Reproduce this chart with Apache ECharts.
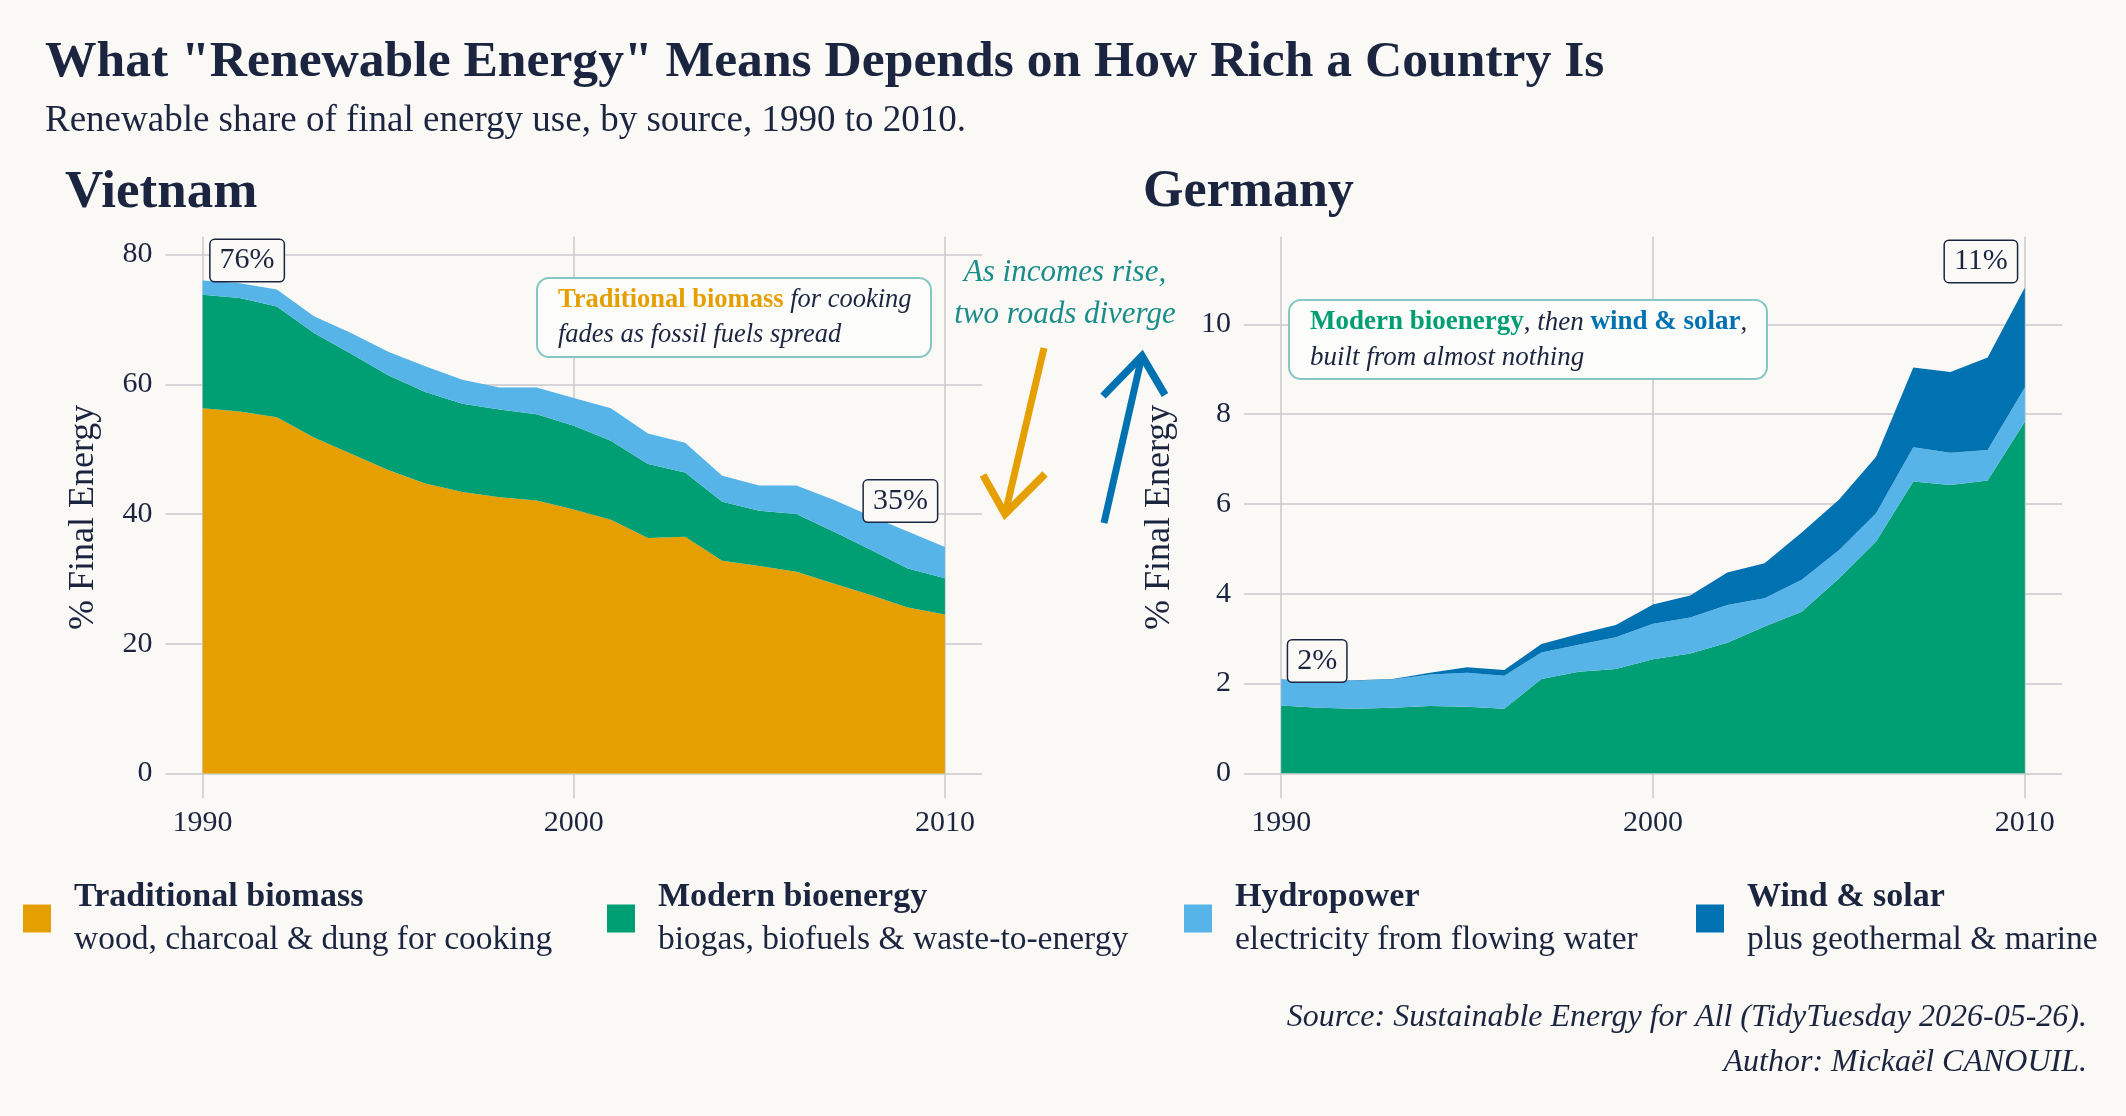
<!DOCTYPE html>
<html>
<head>
<meta charset="utf-8">
<title>Renewable energy: Vietnam vs Germany</title>
<script src="https://cdn.jsdelivr.net/npm/echarts@6/dist/echarts.min.js"></script>
<style>
  html, body { margin: 0; padding: 0; background: #faf9f6; }
  #chart { width: 2126px; height: 1116px; }
</style>
</head>
<body>
<div id="chart"></div>
<script>
  // data
  var years = [1990, 1991, 1992, 1993, 1994, 1995, 1996, 1997, 1998, 1999, 2000,
               2001, 2002, 2003, 2004, 2005, 2006, 2007, 2008, 2009, 2010];

  var sources = ['Traditional biomass', 'Modern bioenergy', 'Hydropower', 'Wind & solar'];
  var sourceNotes = ['wood, charcoal & dung for cooking', 'biogas, biofuels & waste-to-energy',
                     'electricity from flowing water', 'plus geothermal & marine'];

  // Vietnam, % of final energy
  var vnTraditional = [56.3, 55.8, 54.9, 51.8, 49.3, 46.8, 44.7, 43.4, 42.6, 42.1, 40.7,
                       39.1, 36.3, 36.5, 32.8, 32.0, 31.1, 29.3, 27.5, 25.6, 24.5];
  var vnModern = [17.5, 17.5, 17.1, 16.1, 15.4, 14.6, 14.1, 13.6, 13.5, 13.3, 12.9,
                  12.2, 11.4, 9.9, 9.1, 8.5, 8.9, 8.0, 7.0, 6.0, 5.6];
  var vnHydro = [2.2, 2.3, 2.6, 2.6, 3.2, 3.6, 4.0, 3.7, 3.4, 4.1, 4.3,
                 5.0, 4.7, 4.6, 4.0, 3.9, 4.4, 4.9, 5.2, 5.7, 4.8];
  var vnWindSolar = [0, 0, 0, 0, 0, 0, 0, 0, 0, 0, 0,
                     0, 0, 0, 0, 0, 0, 0, 0, 0, 0];

  // Germany, % of final energy
  var deTraditional = [0, 0, 0, 0, 0, 0, 0, 0, 0, 0, 0,
                       0, 0, 0, 0, 0, 0, 0, 0, 0, 0];
  var deModern = [1.51, 1.46, 1.44, 1.46, 1.50, 1.48, 1.44, 2.10, 2.26, 2.32, 2.54,
                  2.67, 2.91, 3.27, 3.60, 4.34, 5.16, 6.50, 6.42, 6.52, 7.83];
  var deHydro = [0.59, 0.58, 0.62, 0.63, 0.70, 0.76, 0.73, 0.59, 0.60, 0.71, 0.79,
                 0.80, 0.84, 0.63, 0.71, 0.63, 0.63, 0.76, 0.72, 0.68, 0.76];
  var deWindSolar = [0.00, 0.01, 0.01, 0.01, 0.04, 0.12, 0.13, 0.19, 0.24, 0.27, 0.43,
                     0.49, 0.72, 0.78, 1.05, 1.12, 1.26, 1.78, 1.80, 2.06, 2.23];

  var yearTicks = [1990, 2000, 2010];
  var vnTicks = [0, 20, 40, 60, 80];
  var deTicks = [0, 2, 4, 6, 8, 10];

  var colors = ['#E69F00', '#009E73', '#56B4E9', '#0072B2'];
  var dark = '#1b2540';
  var teal = '#1a8c89';
  var bg = '#faf9f6';
  var gridColor = '#c9c9ce';
  var serif = '"Liberation Serif", "DejaVu Serif", serif';

  // value first, year second, so the stack sums the values (y), not the years
  function pairs(vals) {
    return years.map(function (y, i) { return [vals[i], y]; });
  }

  function totals(a, b, c, d) {
    return years.map(function (y, i) { return a[i] + b[i] + c[i] + d[i]; });
  }

  function areaSeries(idx, stack, lists) {
    return lists.map(function (vals, k) {
      return {
        name: sources[k],
        type: 'line',
        xAxisIndex: idx,
        yAxisIndex: idx,
        stack: stack,
        data: pairs(vals),
        encode: { x: 1, y: 0 },
        symbol: 'none',
        showSymbol: false,
        silent: true,
        z: 3,
        lineStyle: { width: 0, color: colors[k] },
        itemStyle: { color: colors[k] },
        areaStyle: { color: colors[k], opacity: 1 }
      };
    });
  }

  // grid lines drawn behind the areas
  function gridLines(idx, yTicks) {
    return {
      type: 'line',
      xAxisIndex: idx,
      yAxisIndex: idx,
      data: [],
      silent: true,
      z: 1,
      markLine: {
        z: 1,
        silent: true,
        symbol: ['none', 'none'],
        label: { show: false },
        lineStyle: { color: gridColor, width: 1.5, type: 'solid' },
        emphasis: { disabled: true },
        data: yTicks.map(function (v) { return { yAxis: v }; })
          .concat(yearTicks.map(function (v) { return { xAxis: v }; }))
      }
    };
  }

  // boxed % labels at the first and last year
  function endLabels(idx, total, first, last) {
    var pts = [[0, first], [years.length - 1, last]];
    return {
      type: 'scatter',
      xAxisIndex: idx,
      yAxisIndex: idx,
      symbolSize: 0.1,
      silent: true,
      z: 6,
      itemStyle: { color: bg, opacity: 1 },
      data: pts.map(function (p) {
        return {
          value: [years[p[0]], total[p[0]]],
          label: { align: p[1].align, offset: p[1].offset }
        };
      }),
      label: {
        show: true,
        position: 'inside',
        verticalAlign: 'middle',
        opacity: 1,
        formatter: function (p) { return Math.round(p.value[1]) + '%'; },
        fontFamily: serif,
        fontSize: 30,
        lineHeight: 31,
        color: dark,
        backgroundColor: bg,
        borderColor: dark,
        borderWidth: 1.5,
        borderRadius: 4,
        padding: [5, 9, 5, 9]
      }
    };
  }

  function xAxis(idx) {
    return {
      gridIndex: idx,
      type: 'value',
      min: 1989,
      max: 2011,
      axisLine: { show: false },
      axisTick: { show: false },
      splitLine: { show: false },
      axisLabel: {
        customValues: yearTicks,
        formatter: function (v) { return String(v); },
        fontFamily: serif,
        fontSize: 30,
        color: dark,
        margin: 10
      }
    };
  }

  function yAxis(idx, min, max, ticks, gap) {
    return {
      gridIndex: idx,
      type: 'value',
      min: min,
      max: max,
      name: '% Final Energy',
      nameLocation: 'middle',
      nameGap: gap,
      nameTextStyle: { fontFamily: serif, fontSize: 36, color: dark },
      axisLine: { show: false },
      axisTick: { show: false },
      splitLine: { show: false },
      axisLabel: {
        customValues: ticks,
        fontFamily: serif,
        fontSize: 30,
        color: dark,
        margin: 13
      }
    };
  }

  var vnTotal = totals(vnTraditional, vnModern, vnHydro, vnWindSolar);
  var deTotal = totals(deTraditional, deModern, deHydro, deWindSolar);

  var legendLeft = [23, 607, 1184, 1696];

  var chart = echarts.init(document.getElementById('chart'));
  chart.setOption({
    backgroundColor: bg,
    animation: false,
    textStyle: { fontFamily: serif, color: dark },
    title: [
      {
        text: 'What "Renewable Energy" Means Depends on How Rich a Country Is',
        left: 45, top: 37, padding: 0,
        textStyle: { fontFamily: serif, fontWeight: 'bold', fontSize: 51.6, color: dark }
      },
      {
        text: 'Renewable share of final energy use, by source, 1990 to 2010.',
        left: 45, top: 103, padding: 0,
        textStyle: { fontFamily: serif, fontWeight: 'normal', fontSize: 37, color: dark }
      },
      {
        text: 'Vietnam', left: 65, top: 167, padding: 0,
        textStyle: { fontFamily: serif, fontWeight: 'bold', fontSize: 53, color: dark }
      },
      {
        text: 'Germany', left: 1143, top: 167, padding: 0,
        textStyle: { fontFamily: serif, fontWeight: 'bold', fontSize: 52, color: dark }
      },
      {
        text: '{o|Traditional biomass} {i|for cooking}\n{i|fades as fossil fuels spread}',
        left: 537, top: 278,
        padding: [5, 20, 4, 21],
        backgroundColor: '#fcfcfb',
        borderColor: '#86c6c3',
        borderWidth: 2,
        borderRadius: 12,
        textStyle: {
          fontFamily: serif, fontSize: 26.5, lineHeight: 35, color: dark, fontWeight: 'normal',
          rich: {
            o: { fontFamily: serif, fontSize: 26.5, lineHeight: 35, color: colors[0], fontWeight: 'bold' },
            i: { fontFamily: serif, fontSize: 26.5, lineHeight: 35, color: dark, fontStyle: 'italic' }
          }
        }
      },
      {
        text: '{g|Modern bioenergy}, {i|then} {b|wind & solar},\n{i|built from almost nothing}',
        left: 1289, top: 300,
        padding: [5, 20, 4, 21],
        backgroundColor: '#fcfcfb',
        borderColor: '#86c6c3',
        borderWidth: 2,
        borderRadius: 12,
        textStyle: {
          fontFamily: serif, fontSize: 27, lineHeight: 35, color: dark, fontWeight: 'normal',
          rich: {
            g: { fontFamily: serif, fontSize: 27, lineHeight: 35, color: colors[1], fontWeight: 'bold' },
            b: { fontFamily: serif, fontSize: 27, lineHeight: 35, color: colors[3], fontWeight: 'bold' },
            i: { fontFamily: serif, fontSize: 27, lineHeight: 35, color: dark, fontStyle: 'italic' }
          }
        }
      },
      {
        text: 'Source: Sustainable Energy for All (TidyTuesday 2026-05-26).',
        right: 39, top: 1002, padding: 0,
        textStyle: { fontFamily: serif, fontStyle: 'italic', fontWeight: 'normal', fontSize: 32, color: dark }
      },
      {
        text: 'Author: Mickaël CANOUIL.',
        right: 39, top: 1047, padding: 0,
        textStyle: { fontFamily: serif, fontStyle: 'italic', fontWeight: 'normal', fontSize: 32, color: dark }
      }
    ],
    legend: sources.map(function (s, i) {
      return {
        data: [{ name: s, itemStyle: { color: colors[i] } }],
        left: legendLeft[i],
        top: 880,
        padding: 0,
        icon: 'rect',
        itemWidth: 28,
        itemHeight: 28,
        selectedMode: false,
        formatter: function (name) {
          return '{b|' + name + '}\n{n|' + sourceNotes[i] + '}';
        },
        textStyle: {
          rich: {
            b: { fontFamily: serif, fontWeight: 'bold', fontSize: 34, lineHeight: 43, color: dark, padding: [0, 0, 0, 18] },
            n: { fontFamily: serif, fontSize: 33.5, lineHeight: 43, color: dark, padding: [0, 0, 0, 18] }
          }
        }
      };
    }),
    grid: [
      { left: 165.5, right: 1144, top: 236.5, bottom: 317.7 },
      { left: 1244, right: 64, top: 236.5, bottom: 317.7 }
    ],
    xAxis: [xAxis(0), xAxis(1)],
    yAxis: [
      yAxis(0, -3.84, 82.79, vnTicks, 64),
      yAxis(1, -0.557, 11.955, deTicks, 66)
    ],
    graphic: [
      {
        type: 'text', x: 1065, y: 294, silent: true,
        style: {
          text: 'As incomes rise,\ntwo roads diverge',
          font: 'italic 31px "Liberation Serif"',
          fill: teal, align: 'center', verticalAlign: 'middle', lineHeight: 42
        }
      },
      {
        type: 'polyline', silent: true,
        shape: { points: [[1044, 348], [1006, 510]] },
        style: { stroke: colors[0], lineWidth: 7, fill: null }
      },
      {
        type: 'polyline', silent: true,
        shape: { points: [[983, 475], [1005, 514], [1045, 474]] },
        style: { stroke: colors[0], lineWidth: 7.5, fill: null, lineJoin: 'miter' }
      },
      {
        type: 'polyline', silent: true,
        shape: { points: [[1104, 523], [1141, 360]] },
        style: { stroke: colors[3], lineWidth: 7, fill: null }
      },
      {
        type: 'polyline', silent: true,
        shape: { points: [[1103, 396], [1142, 356], [1165, 395]] },
        style: { stroke: colors[3], lineWidth: 7.5, fill: null, lineJoin: 'miter' }
      }
    ],
    series: [].concat(
      [gridLines(0, vnTicks), gridLines(1, deTicks)],
      areaSeries(0, 'vn', [vnTraditional, vnModern, vnHydro, vnWindSolar]),
      areaSeries(1, 'de', [deTraditional, deModern, deHydro, deWindSolar]),
      [
        endLabels(0, vnTotal, { align: 'left', offset: [8, -20] }, { align: 'right', offset: [-8, -46] }),
        endLabels(1, deTotal, { align: 'left', offset: [7, -18] }, { align: 'right', offset: [-8, -26] })
      ]
    )
  });
</script>
</body>
</html>
